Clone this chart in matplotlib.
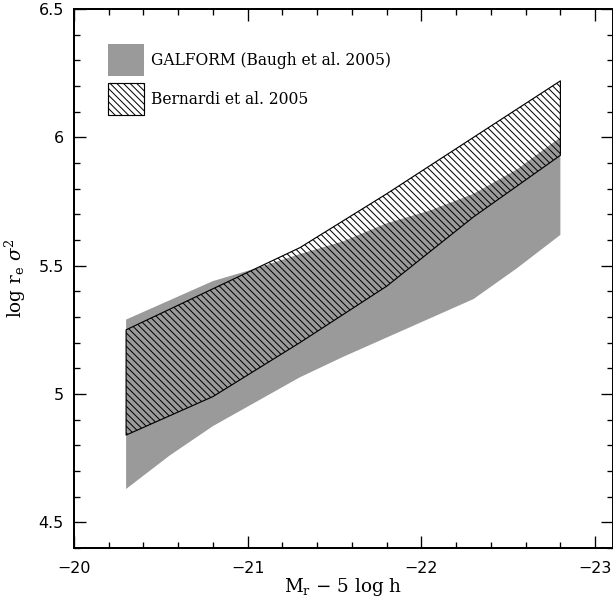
import matplotlib
matplotlib.use("Agg")
import matplotlib.pyplot as plt
from matplotlib.patches import Patch
from matplotlib.ticker import MultipleLocator, FuncFormatter

# GALFORM (Baugh et al. 2005) band
galform_mag = [-20.3, -20.55, -20.8, -21.05, -21.3, -21.55, -21.8, -22.05, -22.3, -22.55, -22.8]
galform_lo = [4.63, 4.76, 4.875, 4.97, 5.065, 5.145, 5.22, 5.295, 5.37, 5.49, 5.62]
galform_hi = [5.29, 5.365, 5.44, 5.49, 5.545, 5.595, 5.665, 5.715, 5.78, 5.875, 6.0]

# Bernardi et al. 2005 band
bern_mag = [-20.3, -20.8, -21.3, -21.8, -22.3, -22.8]
bern_lo = [4.84, 4.99, 5.20, 5.42, 5.69, 5.93]
bern_hi = [5.25, 5.41, 5.57, 5.78, 6.00, 6.22]

labels = ["GALFORM (Baugh et al. 2005)", "Bernardi et al. 2005"]

plt.rcParams['mathtext.fontset'] = 'dejavuserif'
plt.rcParams['hatch.linewidth'] = 0.6

HATCH = '\\' * 6

DPI = 120
fig = plt.figure(figsize=(613 / DPI, 599 / DPI), dpi=DPI)
ax = fig.add_axes([0.1207, 0.0851, 0.8785, 0.8999])

grey = '#9a9a9a'
ax.fill_between(galform_mag, galform_lo, galform_hi, facecolor=grey, edgecolor='none', linewidth=0)
ax.fill_between(bern_mag, bern_lo, bern_hi, facecolor='none', edgecolor='black',
                hatch=HATCH, linewidth=0.7)

ax.set_xlim(-20, -23.1)
ax.set_ylim(4.4, 6.5)

ax.xaxis.set_major_locator(MultipleLocator(1))
ax.xaxis.set_minor_locator(MultipleLocator(0.2))
ax.yaxis.set_major_locator(MultipleLocator(0.5))
ax.yaxis.set_minor_locator(MultipleLocator(0.1))
fmt = FuncFormatter(lambda v, p: ('{:g}'.format(v)).replace('-', '\u2212'))
ax.xaxis.set_major_formatter(fmt)
ax.yaxis.set_major_formatter(fmt)

ax.tick_params(which='both', direction='in', top=True, right=True, width=0.8,
               labelsize=9.5)
ax.tick_params(which='major', length=7.2)
ax.tick_params(which='minor', length=3.6)
ax.tick_params(axis='x', which='major', pad=8)
ax.tick_params(axis='y', which='major', pad=6)
for lab in ax.get_xticklabels() + ax.get_yticklabels():
    lab.set_family('DejaVu Sans')
for s in ax.spines.values():
    s.set_linewidth(1.2)

ax.set_xlabel('M$_{\\rm r}$ \u2212 5 log h', family='DejaVu Serif', fontsize=11, labelpad=-0.5)
ax.set_ylabel('log r$_{\\rm e}$ $\\sigma^2$', family='DejaVu Serif', fontsize=11, labelpad=6.5)

handles = [Patch(facecolor=grey, edgecolor='none', linewidth=0),
           Patch(facecolor='white', edgecolor='black', hatch=HATCH, linewidth=0.7)]
leg = ax.legend(handles, labels, loc='upper left', bbox_to_anchor=(0.063, 0.935),
                frameon=False, borderpad=0, borderaxespad=0,
                handlelength=2.32, handleheight=2.8, labelspacing=0.45,
                handletextpad=0.48, prop={'family': 'DejaVu Serif', 'size': 9.3})

fig.savefig('out.png', dpi=DPI)
